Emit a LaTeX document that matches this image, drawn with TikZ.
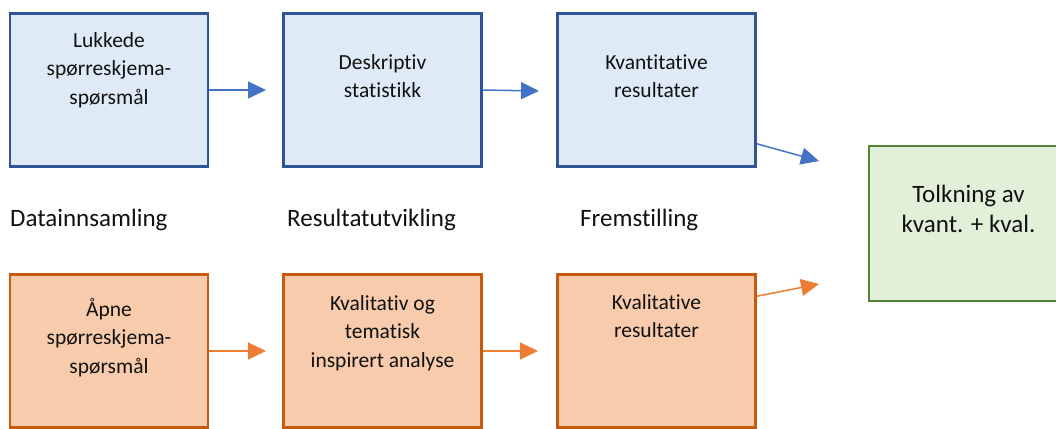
\documentclass[tikz,border=0pt]{standalone}
\usepackage{fontspec}
\setmainfont{Carlito}[Ligatures={NoCommon,NoRequired,NoContextual}]
\usetikzlibrary{arrows.meta}
\definecolor{bfill}{HTML}{DEEBF7}
\definecolor{bdraw}{HTML}{2F5597}
\definecolor{barrow}{HTML}{4472C4}
\definecolor{ofill}{HTML}{F8CBAD}
\definecolor{odraw}{HTML}{C55A11}
\definecolor{oarrow}{HTML}{ED7D31}
\definecolor{gfill}{HTML}{E2F0D9}
\definecolor{gdraw}{HTML}{548235}
\definecolor{txt}{HTML}{111111}
\newcommand{\topstrut}{\rule{0pt}{20pt}}
\tikzset{
  boxbase/.style={rectangle, line width=2.5pt, inner sep=0pt, minimum width=198pt, minimum height=153pt},
  bluebox/.style={boxbase, draw=bdraw, fill=bfill},
  orangebox/.style={boxbase, draw=odraw, fill=ofill},
  greenbox/.style={boxbase, draw=gdraw, fill=gfill, minimum width=199pt, minimum height=155pt},
  boxtext/.style={anchor=north, inner sep=0pt, align=center, text=txt, font=\fontsize{21.5}{28.5}\selectfont},
  bigtext/.style={anchor=north, inner sep=0pt, align=center, text=txt, font=\fontsize{25}{30}\selectfont},
  stagelabel/.style={anchor=base west, inner sep=0pt, text=txt, font=\fontsize{25}{30}\selectfont},
  barr/.style={draw=barrow, line width=1.5pt, -{Triangle[length=18pt,width=17pt]}},
  oarr/.style={draw=oarrow, line width=1.5pt, -{Triangle[length=18pt,width=17pt]}}
}
\begin{document}
\begin{tikzpicture}[x=1pt, y=-1pt]
\useasboundingbox (0,0) rectangle (1056,428);
\begin{scope}
\clip (0,0) rectangle (1056,428);
% blue row
\node[bluebox] (b1) at (109,90) {};
\node[bluebox] (b2) at (382.5,90) {};
\node[bluebox] (b3) at (656.5,90) {};
% orange row
\node[orangebox] (o1) at (109,351) {};
\node[orangebox] (o2) at (382.5,351) {};
\node[orangebox] (o3) at (656.5,351) {};
% green
\node[greenbox] (g) at (968.5,223.5) {};
\end{scope}
% texts
\node[boxtext] (tb1) at (109,27) {\topstrut Lukkede\\spørreskjema-\\spørsmål};
\node[boxtext] (tb2) at (382.5,49) {\topstrut Deskriptiv\\statistikk};
\node[boxtext] (tb3) at (656.5,49) {\topstrut Kvantitative\\resultater};
\node[boxtext] (to1) at (109,296) {\topstrut Åpne\\spørreskjema-\\spørsmål};
\node[boxtext] (to2) at (382.5,290) {\topstrut Kvalitativ og\\tematisk\\inspirert analyse};
\node[boxtext] (to3) at (656.5,289) {\topstrut Kvalitative\\resultater};
\node[bigtext] (tg) at (968.5,182) {\topstrut Tolkning av\\kvant. + kval.};
% stage labels
\node[stagelabel] (l1) at (10,226) {Datainnsamling};
\node[stagelabel] (l2) at (287,226) {Resultatutvikling};
\node[stagelabel] (l3) at (580,226) {Fremstilling};
% arrow ends
\coordinate (e1) at (266,90);
\coordinate (e2) at (539,91);
\coordinate (e3) at (819,161);
\coordinate (f1) at (266,351);
\coordinate (f2) at (538,351);
\coordinate (f3) at (819,284);
\draw[barr] (b1.east) -- (e1);
\draw[barr] (b2.east) -- (e2);
\draw[barr] ([yshift=24pt]b3.south east) -- (e3);
\draw[oarr] (o1.east) -- (f1);
\draw[oarr] (o2.east) -- (f2);
\draw[oarr] ([yshift=-23pt]o3.north east) -- (f3);
\end{tikzpicture}
\end{document}
